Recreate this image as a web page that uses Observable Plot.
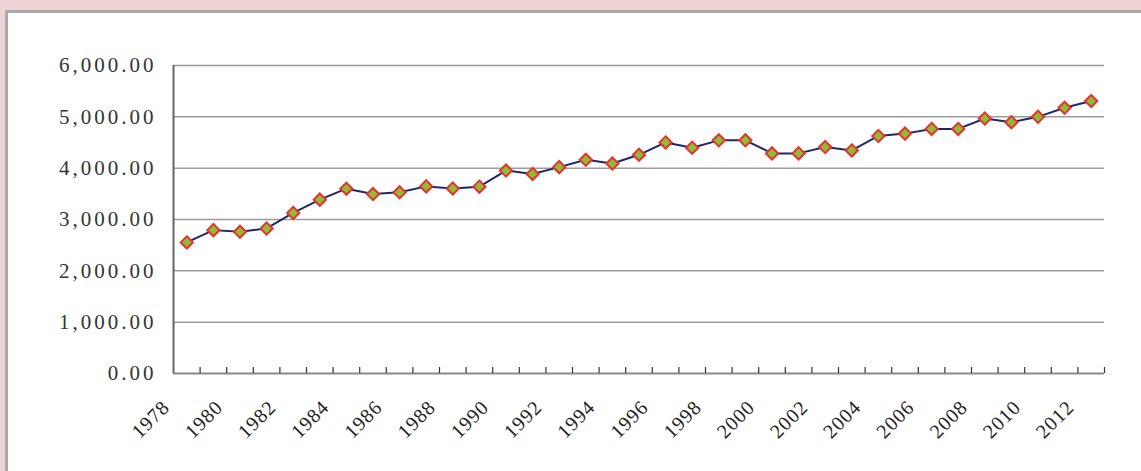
<!DOCTYPE html>
<html><head><meta charset="utf-8">
<script src="https://cdn.jsdelivr.net/npm/d3@7"></script>
<script src="https://cdn.jsdelivr.net/npm/@observablehq/plot@0.6"></script>
<style>
html,body{margin:0;padding:0;background:#efd4d7;width:1141px;height:471px;overflow:hidden;}
#panel{position:absolute;left:5px;top:10px;right:-10px;bottom:-10px;background:#fff;border-left:3px solid #a9a9a9;border-top:3px solid #a9a9a9;}
#chart{position:absolute;left:0;top:0;}
</style></head><body><div id="panel"></div><div id="chart"></div>
<script>
const years = [1978,1979,1980,1981,1982,1983,1984,1985,1986,1987,1988,1989,1990,1991,1992,1993,1994,1995,1996,1997,1998,1999,2000,2001,2002,2003,2004,2005,2006,2007,2008,2009,2010,2011,2012];
const values = [2554,2793,2760,2825,3128,3387,3600,3496,3529,3645,3605,3640,3953,3888,4020,4163,4090,4260,4502,4398,4542,4542,4288,4288,4412,4346,4627,4673,4765,4765,4967,4895,5000,5176,5307];
const yTicks = [0,1000,2000,3000,4000,5000,6000];
const labelYears = [1978,1980,1982,1984,1986,1988,1990,1992,1994,1996,1998,2000,2002,2004,2006,2008,2010,2012];

const data = years.map((y,i)=>({year:y, value:values[i]}));
const xDomain = [years[0]-0.5, years[years.length-1]+0.5];
const boundaries = years.map(y=>y+0.5);
const W=1141,H=471,mL=173,mR=37,mT=65,mB=98;
const plotH = H-mT-mB;
const fmt = d3.format(",.2f");

const chart = Plot.plot({
  width:W, height:H,
  marginLeft:mL, marginRight:mR, marginTop:mT, marginBottom:mB,
  style:{background:"transparent", fontFamily:"'Liberation Serif','DejaVu Serif',serif"},
  x:{type:"linear", domain:xDomain, axis:null},
  y:{domain:[0,6000], axis:null},
  marks:[
    Plot.ruleY(yTicks.filter(d=>d>0), {stroke:"#9c9c9c", strokeWidth:1.5}),
    Plot.ruleY([0], {stroke:"#8a8a8a", strokeWidth:2}),
    Plot.ruleX([xDomain[0]], {stroke:"#666", strokeWidth:2}),
    Plot.ruleX(boundaries, {insetTop:plotH-6, stroke:"#333", strokeWidth:1.2}),
    Plot.text(yTicks, {y:d=>d, frameAnchor:"left", text:d=>fmt(d), textAnchor:"end", dx:-17, fontSize:21, fill:"#333"}),
    Plot.text(labelYears, {x:d=>d, frameAnchor:"bottom", text:d=>String(d), rotate:-45, textAnchor:"end", dx:-16, dy:35, fontSize:20, fill:"#222"}),
    Plot.line(data, {x:"year", y:"value", stroke:"#1f2768", strokeWidth:2}),
    Plot.dot(data, {x:"year", y:"value", symbol:"diamond2", r:5.5, fill:"#8dbb3a", stroke:"#e8322a", strokeWidth:2})
  ]
});
d3.select(chart).selectAll("text").each(function(){
  const t = this.textContent;
  if (/\.\d\d$/.test(t)) this.style.letterSpacing = "3px";
  else if (/^\d{4}$/.test(t)) this.style.letterSpacing = "1px";
});
document.getElementById("chart").appendChild(chart);
</script></body></html>
